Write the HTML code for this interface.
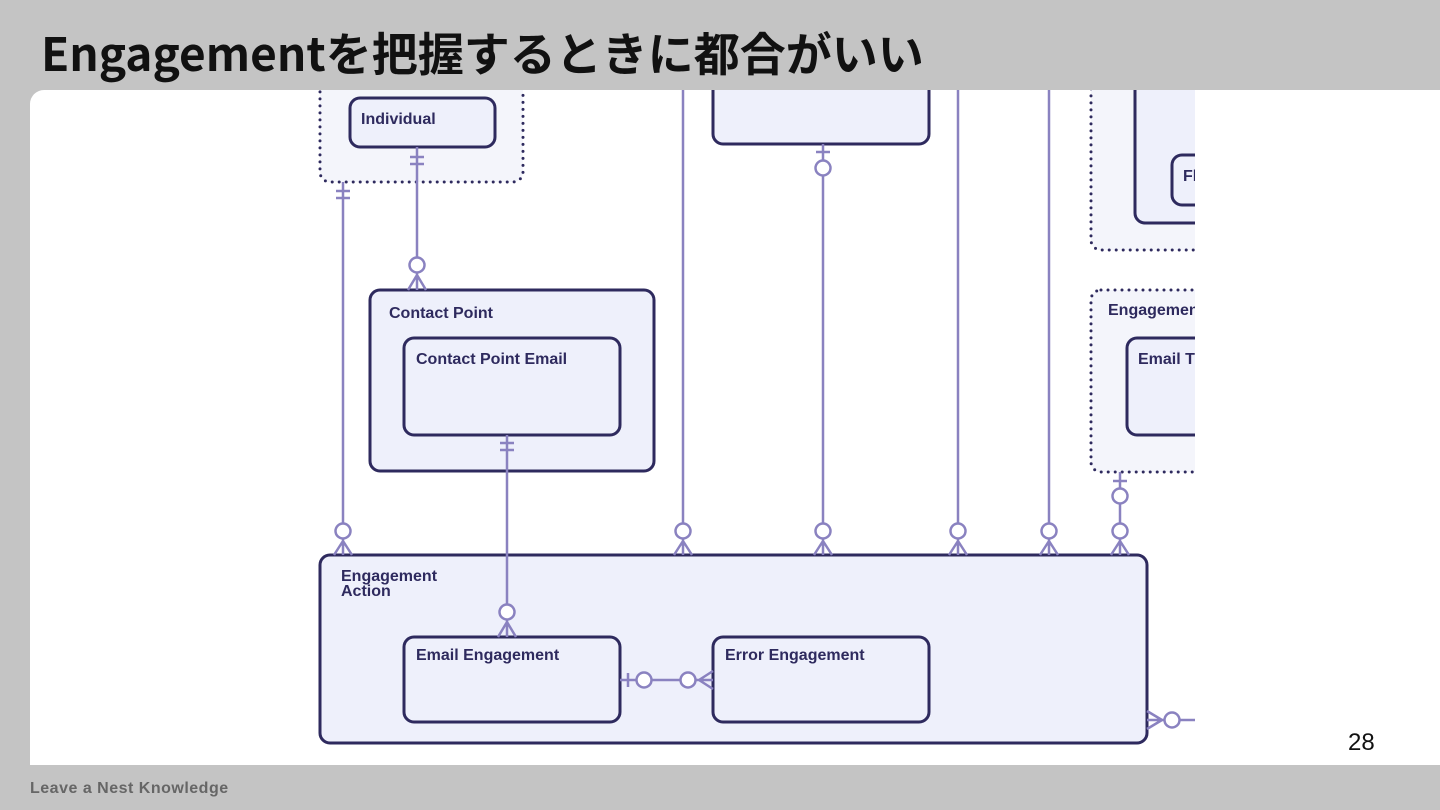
<!DOCTYPE html>
<html><head><meta charset="utf-8"><style>
html,body{margin:0;padding:0;width:1440px;height:810px;overflow:hidden;background:#c4c4c4}
.t{position:absolute;left:41px;top:25px;font:bold 46px "Noto Sans CJK JP",sans-serif;line-height:54px;color:#111;white-space:nowrap}
.panel{position:absolute;left:30px;top:90px;width:1410px;height:675px;background:#fff;border-top-left-radius:14px}
.foot{position:absolute;left:30px;top:780px;font:bold 16px "Liberation Sans",sans-serif;color:#666;letter-spacing:0.5px}
.pn{position:absolute;left:1348px;top:729px;font:24px "Liberation Sans",sans-serif;color:#111}
svg{position:absolute;left:0;top:0}
text{font-family:"Liberation Sans",sans-serif;font-weight:bold;font-size:16px;fill:#2e2a5e}
</style></head><body>
<div class="t">Engagementを把握するときに都合がいい</div>
<div class="panel"></div>
<svg width="1440" height="810" viewBox="0 0 1440 810">
<defs><clipPath id="c"><rect x="270" y="90" width="925" height="660"/></clipPath></defs>
<g clip-path="url(#c)">
<rect x="320" y="60" width="203" height="122" rx="10" fill="#f4f5fb" stroke="#2e2a5e" stroke-width="3" stroke-dasharray="0 7" stroke-linecap="round"/>
<rect x="1091" y="60" width="200" height="190" rx="10" fill="#f4f5fb" stroke="#2e2a5e" stroke-width="3" stroke-dasharray="0 7" stroke-linecap="round"/>
<rect x="1091" y="290" width="200" height="182" rx="10" fill="#f4f5fb" stroke="#2e2a5e" stroke-width="3" stroke-dasharray="0 7" stroke-linecap="round"/>
<g fill="#eef0fb" stroke="#2e2a5e" stroke-width="3">
<rect x="350" y="98" width="145" height="49" rx="10"/>
<rect x="713" y="60" width="216" height="84" rx="10"/>
<rect x="1135" y="60" width="150" height="163" rx="10"/>
<rect x="1172" y="155" width="100" height="50" rx="10"/>
<rect x="1127" y="338" width="150" height="97" rx="10"/>
<rect x="370" y="290" width="284" height="181" rx="10"/>
<rect x="404" y="338" width="216" height="97" rx="10"/>
<rect x="320" y="555" width="827" height="188" rx="10"/>
<rect x="404" y="637" width="216" height="85" rx="10"/>
<rect x="713" y="637" width="216" height="85" rx="10"/>
</g>
<text x="361" y="124">Individual</text>
<text x="1183" y="181">Fl</text>
<text x="1108" y="315">Engagement</text>
<text x="1138" y="364">Email T</text>
<text x="389" y="318">Contact Point</text>
<text x="416" y="364">Contact Point Email</text>
<text x="341" y="581">Engagement</text>
<text x="341" y="596">Action</text>
<text x="416" y="660">Email Engagement</text>
<text x="725" y="660">Error Engagement</text>
<g stroke="#8a82c0" stroke-width="2.5" fill="#fff">
<line x1="343" y1="182" x2="343" y2="523"/><line x1="336" y1="191" x2="350" y2="191"/><line x1="336" y1="198" x2="350" y2="198"/>
<line x1="683" y1="90" x2="683" y2="523"/>
<line x1="823" y1="144" x2="823" y2="160"/><line x1="816" y1="152" x2="830" y2="152"/><circle cx="823" cy="168" r="7.5"/><line x1="823" y1="176" x2="823" y2="523"/>
<line x1="958" y1="90" x2="958" y2="523"/>
<line x1="1049" y1="90" x2="1049" y2="523"/>
<line x1="1120" y1="472" x2="1120" y2="488"/><line x1="1113" y1="481" x2="1127" y2="481"/><circle cx="1120" cy="496" r="7.5"/><line x1="1120" y1="504" x2="1120" y2="523"/>
<line x1="417" y1="147" x2="417" y2="257"/><line x1="410" y1="157" x2="424" y2="157"/><line x1="410" y1="164" x2="424" y2="164"/><circle cx="417" cy="265" r="7.5"/>
<path d="M417 273V290M417 275L408 290M417 275L426 290" fill="none"/>
<line x1="507" y1="435" x2="507" y2="604"/><line x1="500" y1="443" x2="514" y2="443"/><line x1="500" y1="450" x2="514" y2="450"/><circle cx="507" cy="612" r="7.5"/>
<path d="M507 620V637M507 622L498 637M507 622L516 637" fill="none"/>
<circle cx="343" cy="531" r="7.5"/><circle cx="683" cy="531" r="7.5"/><circle cx="823" cy="531" r="7.5"/><circle cx="958" cy="531" r="7.5"/><circle cx="1049" cy="531" r="7.5"/><circle cx="1120" cy="531" r="7.5"/>
<path fill="none" d="M343 539V555M343 541L334 555M343 541L352 555M683 539V555M683 541L674 555M683 541L692 555M823 539V555M823 541L814 555M823 541L832 555M958 539V555M958 541L949 555M958 541L967 555M1049 539V555M1049 541L1040 555M1049 541L1058 555M1120 539V555M1120 541L1111 555M1120 541L1129 555"/>
<line x1="620" y1="680" x2="636" y2="680"/><line x1="628" y1="673" x2="628" y2="687"/><circle cx="644" cy="680" r="7.5"/><line x1="652" y1="680" x2="680" y2="680"/><circle cx="688" cy="680" r="7.5"/>
<path fill="none" d="M696 680H713M699 680L713 671M699 680L713 689"/>
<path fill="none" d="M1147 720H1164M1147 711L1162 720M1147 729L1162 720"/><circle cx="1172" cy="720" r="7.5"/><line x1="1180" y1="720" x2="1195" y2="720"/>
</g>
</g>
</svg>
<div class="pn">28</div>
<div class="foot">Leave a Nest Knowledge</div>
</body></html>
